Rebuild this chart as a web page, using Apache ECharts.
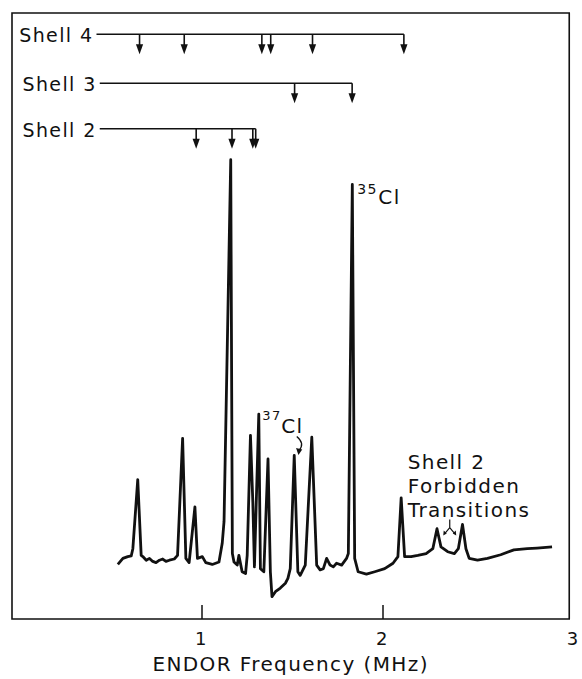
<!DOCTYPE html>
<html>
<head>
<meta charset="utf-8">
<script src="https://cdn.jsdelivr.net/npm/echarts@6/dist/echarts.min.js"></script>
<style>
  html, body { margin: 0; padding: 0; background: #fff; }
  #chart { width: 582px; height: 679px; }
  #chart text { letter-spacing: 1.4px; }
</style>
</head>
<body>
<div id="chart"></div>
<script>
// ENDOR spectrum trace: frequency (MHz) and signal (arbitrary units)
const freqMHz = [
  0.538, 0.566, 0.593, 0.612, 0.621, 0.648, 0.667, 0.676, 0.695, 0.713,
  0.731, 0.749, 0.768, 0.786, 0.804, 0.823, 0.850, 0.868, 0.896, 0.914,
  0.932, 0.964, 0.978, 1.005, 1.024, 1.060, 1.097, 1.115, 1.125, 1.162,
  1.171, 1.180, 1.198, 1.207, 1.225, 1.244, 1.253, 1.271, 1.284, 1.293,
  1.317, 1.326, 1.345, 1.368, 1.381, 1.390, 1.409, 1.436, 1.464, 1.478,
  1.491, 1.513, 1.533, 1.546, 1.574, 1.610, 1.637, 1.656, 1.674, 1.692,
  1.711, 1.729, 1.747, 1.775, 1.802, 1.812, 1.834, 1.847, 1.866, 1.912,
  1.958, 2.013, 2.059, 2.086, 2.104, 2.123, 2.159, 2.196, 2.242, 2.279,
  2.302, 2.324, 2.361, 2.398, 2.420, 2.443, 2.462, 2.480, 2.526, 2.581,
  2.654, 2.727, 2.801, 2.855, 2.938
];
const signal = [
  9.0, 10.0, 10.3, 10.4, 11.6, 23.0, 10.5, 10.3, 9.7, 10.0,
  9.5, 9.3, 9.7, 9.9, 9.5, 9.7, 9.9, 10.5, 29.8, 10.0,
  9.3, 18.5, 10.0, 10.3, 9.3, 9.0, 9.4, 12.5, 16.1, 75.8,
  10.8, 9.4, 8.9, 10.5, 7.8, 7.5, 10.5, 30.3, 19.4, 8.6,
  33.8, 8.3, 7.8, 26.4, 7.8, 3.7, 4.5, 5.1, 5.9, 6.7,
  8.3, 27.0, 7.8, 7.2, 8.9, 30.0, 8.9, 8.1, 8.3, 10.0,
  8.9, 8.6, 9.2, 8.9, 10.0, 10.8, 71.7, 10.0, 7.8, 7.4,
  7.8, 8.3, 9.2, 10.3, 20.0, 10.3, 10.3, 10.5, 10.8, 11.6,
  14.9, 11.9, 11.1, 10.8, 11.6, 15.6, 11.6, 10.0, 9.7, 10.0,
  10.6, 11.4, 11.6, 11.7, 11.9
];

// Predicted transitions for each shell of neighbouring nuclei
const shellNames = ['Shell 4', 'Shell 3', 'Shell 2'];
const shellStartMHz = [0.420, 0.438, 0.438];
const shellLevel = [96.5, 88.4, 80.9];
const shellArrowsMHz = [
  [0.658, 0.905, 1.334, 1.383, 1.614, 2.119],
  [1.515, 1.833],
  [0.971, 1.169, 1.284, 1.300]
];

// Chlorine isotope lines
const isotopeMass = ['35', '37'];
const isotopePeakMHz = [1.834, 1.513];

// Shell 2 forbidden transitions
const forbiddenMHz = [2.302, 2.443];
const forbiddenText = ['Shell 2', 'Forbidden', 'Transitions'];

// Frequency axis
const xTickValues = [1, 2];
const xLabelValues = [1, 2, 3];
const xAxisTitle = 'ENDOR Frequency (MHz)';

const FONT = '"DejaVu Sans", "Liberation Sans", sans-serif';
const INK = '#111';

const signalAt = f => signal[freqMHz.indexOf(f)];
const spectrum = freqMHz.map((f, i) => [f, signal[i]]);

function arrowDown(x, y0, len) {
  return [
    { type: 'line', shape: { x1: x, y1: y0, x2: x, y2: y0 + len - 8 },
      style: { stroke: INK, lineWidth: 1.6 } },
    { type: 'polygon', shape: { points: [[x - 3.6, y0 + len - 10], [x + 3.6, y0 + len - 10], [x, y0 + len]] },
      style: { fill: INK } }
  ];
}

function renderShell(params, api) {
  const i = params.dataIndex;
  const start = api.coord([api.value(0), api.value(1)]);
  const end = api.coord([api.value(2), api.value(1)]);
  const children = [
    { type: 'line', shape: { x1: start[0], y1: start[1], x2: end[0], y2: end[1] },
      style: { stroke: INK, lineWidth: 1.5 } },
    { type: 'text', style: { text: shellNames[i], x: start[0] - 3, y: start[1] + 1,
      align: 'right', verticalAlign: 'middle', font: '19px ' + FONT, fill: INK } }
  ];
  shellArrowsMHz[i].forEach(f => {
    const p = api.coord([f, api.value(1)]);
    children.push(...arrowDown(p[0], p[1], 20));
  });
  return { type: 'group', children };
}

function renderIsotope(params, api) {
  const i = params.dataIndex;
  const p = api.coord([api.value(0), api.value(1)]);
  const children = [];
  if (i === 0) {
    children.push(
      { type: 'text', style: { text: isotopeMass[i], x: p[0] + 5, y: p[1] + 5, align: 'left',
        verticalAlign: 'middle', font: '14px ' + FONT, fill: INK } },
      { type: 'text', style: { text: 'Cl', x: p[0] + 26, y: p[1] + 13, align: 'left',
        verticalAlign: 'middle', font: '20px ' + FONT, fill: INK } }
    );
  } else {
    children.push(
      { type: 'text', style: { text: isotopeMass[i], x: p[0] - 32, y: p[1] - 40, align: 'left',
        verticalAlign: 'middle', font: '13px ' + FONT, fill: INK } },
      { type: 'text', style: { text: 'Cl', x: p[0] - 13, y: p[1] - 29, align: 'left',
        verticalAlign: 'middle', font: '20px ' + FONT, fill: INK } },
      { type: 'bezierCurve', shape: { x1: p[0] + 2.5, y1: p[1] - 19, cpx1: p[0] + 11, cpy1: p[1] - 12,
        x2: p[0] + 4.8, y2: p[1] - 5 }, style: { stroke: INK, lineWidth: 1.3, fill: null } },
      { type: 'polygon', shape: { points: [[p[0] + 4.2, p[1] - 0.5], [p[0] + 1.8, p[1] - 7.5], [p[0] + 8, p[1] - 6]] },
        style: { fill: INK } }
    );
  }
  return { type: 'group', children };
}

function renderForbidden(params, api) {
  const a = api.coord([api.value(0), api.value(1)]);
  const b = api.coord([api.value(2), api.value(3)]);
  const cx = (a[0] + b[0]) / 2;
  const top = (a[1] + b[1]) / 2 - 7;
  const children = [
    { type: 'polyline', shape: { points: [[cx, top], [cx, top + 8]] }, style: { stroke: INK, lineWidth: 1.2, fill: null } },
    { type: 'polyline', shape: { points: [[cx - 5, top + 14], [cx, top + 8], [cx + 5, top + 14]] },
      style: { stroke: INK, lineWidth: 1.2, fill: null } },
    { type: 'polygon', shape: { points: [[cx - 6.5, top + 16], [cx - 6, top + 11], [cx - 3, top + 14]] }, style: { fill: INK } },
    { type: 'polygon', shape: { points: [[cx + 6.5, top + 16], [cx + 6, top + 11], [cx + 3, top + 14]] }, style: { fill: INK } }
  ];
  forbiddenText.forEach((t, k) => {
    children.push({ type: 'text', style: { text: t, x: cx - 42, y: top - 58 + k * 24, align: 'left',
      verticalAlign: 'middle', font: '20px ' + FONT, fill: INK } });
  });
  return { type: 'group', children };
}

const chart = echarts.init(document.getElementById('chart'), null, { renderer: 'svg' });
chart.setOption({
  animation: false,
  backgroundColor: '#fff',
  grid: { left: 12, right: 10, top: 13, bottom: 58, show: true, borderColor: INK, borderWidth: 1.6,
    backgroundColor: 'transparent' },
  xAxis: {
    type: 'value', min: -0.047, max: 3.033,
    name: xAxisTitle, nameLocation: 'middle', nameGap: 35,
    nameTextStyle: { fontFamily: FONT, fontSize: 20, color: INK },
    axisLine: { show: false },
    splitLine: { show: false },
    axisTick: { show: true, inside: true, length: 14, customValues: xTickValues,
      lineStyle: { color: INK, width: 1.5 } },
    axisLabel: {
      customValues: xLabelValues, margin: 10, color: INK, fontFamily: FONT, fontSize: 18,
      formatter: v => (v === 3 ? '{e|3}' : String(v)),
      rich: { e: { fontFamily: FONT, fontSize: 18, color: INK, padding: [0, 0, 0, 20] } }
    }
  },
  yAxis: { type: 'value', min: 0, max: 100, show: false },
  series: [
    {
      name: 'ENDOR', type: 'line', data: spectrum, showSymbol: false, symbol: 'none',
      lineStyle: { color: INK, width: 2.8, join: 'round' }, silent: true
    },
    {
      name: 'Shells', type: 'custom', renderItem: renderShell, silent: true,
      data: shellNames.map((n, i) => [shellStartMHz[i], shellLevel[i],
        shellArrowsMHz[i][shellArrowsMHz[i].length - 1]])
    },
    {
      name: 'Isotopes', type: 'custom', renderItem: renderIsotope, silent: true,
      data: isotopePeakMHz.map(f => [f, signalAt(f)])
    },
    {
      name: 'Forbidden', type: 'custom', renderItem: renderForbidden, silent: true,
      data: [[forbiddenMHz[0], signalAt(forbiddenMHz[0]), forbiddenMHz[1], signalAt(forbiddenMHz[1])]]
    }
  ]
});
</script>
</body>
</html>
